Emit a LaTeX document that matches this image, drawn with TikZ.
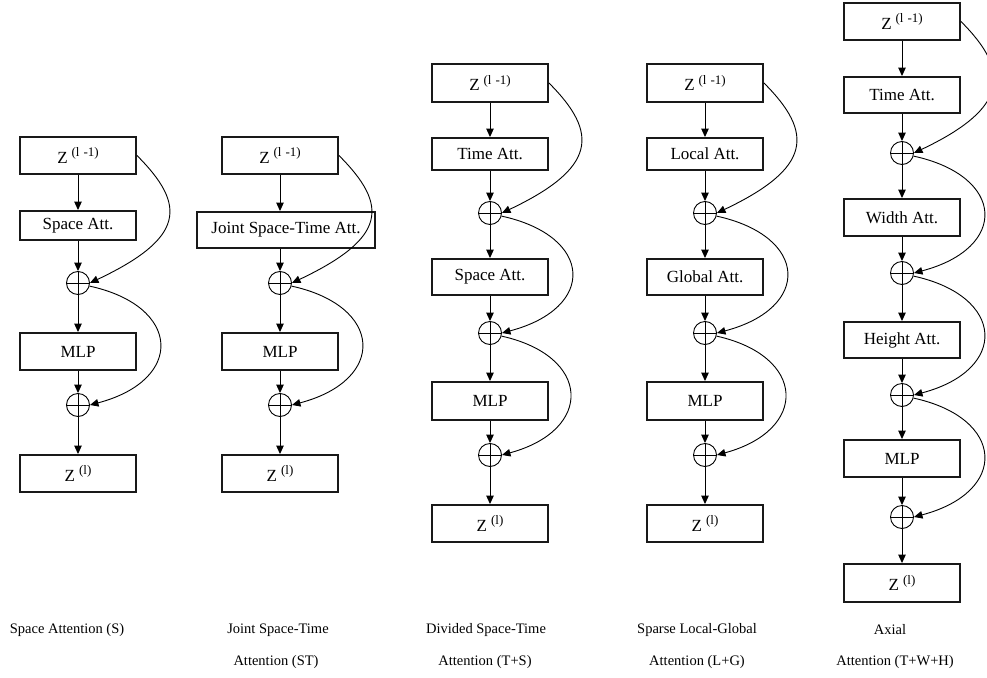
\documentclass[tikz,border=0pt]{standalone}
\usepackage{fontspec}
\setmainfont{Liberation Serif}
\usetikzlibrary{arrows.meta}
\tikzset{
  blk/.style={draw=black!90, line width=1.9pt, minimum width=116pt, minimum height=37pt, inner sep=0pt, font=\fontsize{17}{19}\selectfont},
  opl/.style={draw, circle, line width=0.9pt, minimum size=23pt, inner sep=0pt,
    path picture={\draw[line width=0.9pt] (path picture bounding box.west) -- (path picture bounding box.east)
                  (path picture bounding box.north) -- (path picture bounding box.south);}},
  arr/.style={line width=1pt, -{Triangle[length=8.5pt,width=7.5pt]}},
  skip/.style={line width=0.9pt, -{Triangle[length=8.5pt,width=7.5pt]}},
  lab/.style={font=\fontsize{14.5}{16}\selectfont, inner sep=0pt}
}
\newcommand{\zin}{Z\hspace{4pt}\raisebox{6.5pt}{\fontsize{13}{14}\selectfont(l\hspace{4pt}-1)}}
\newcommand{\zout}{Z\hspace{4pt}\raisebox{6.5pt}{\fontsize{13}{14}\selectfont(l)}}
\begin{document}
\begin{tikzpicture}[x=1pt,y=1pt]
\useasboundingbox (0,0) rectangle (987,-677);
\clip (0,0) rectangle (987,-677);

% ---------- Column 1 ----------
\node[blk] (a0) at (78,-155.5) {\zin};
\node[blk, minimum height=29pt] (a1) at (78,-225.5) {Space Att.};
\node[opl] (ap1) at (78,-283) {};
\node[blk] (a2) at (78,-351.5) {MLP};
\node[opl] (ap2) at (78,-405) {};
\node[blk] (a3) at (78,-473.5) {\zout};
\draw[arr] (a0) -- (a1);
\draw[arr] (a1) -- (ap1);
\draw[arr] (ap1) -- (a2);
\draw[arr] (a2) -- (ap2);
\draw[arr] (ap2) -- (a3);
\draw[skip] (a0.east) .. controls +(50,-50) and +(95,45) .. (ap1.east);
\draw[skip] (ap1.-15) .. controls +(92,-20) and +(95,25) .. (ap2.east);

% ---------- Column 2 ----------
\node[blk] (b0) at (280,-155.5) {\zin};
\node[blk, minimum width=178pt, minimum height=36pt] (b1) at (286,-230) {Joint Space-Time Att.};
\node[opl] (bp1) at (280,-283) {};
\node[blk] (b2) at (280,-351.5) {MLP};
\node[opl] (bp2) at (280,-405) {};
\node[blk] (b3) at (280,-473.5) {\zout};
\draw[arr] (b0) -- (b0 |- b1.north);
\draw[arr] (b0 |- b1.south) -- (bp1);
\draw[arr] (bp1) -- (b2);
\draw[arr] (b2) -- (bp2);
\draw[arr] (bp2) -- (b3);
\draw[skip] (b0.east) .. controls +(50,-50) and +(95,45) .. (bp1.east);
\draw[skip] (bp1.-15) .. controls +(92,-20) and +(95,25) .. (bp2.east);

% ---------- Column 3 ----------
\node[blk, minimum height=38pt] (c0) at (490,-83) {\zin};
\node[blk, minimum height=32pt] (c1) at (490,-154) {Time Att.};
\node[opl] (cp1) at (490,-213) {};
\node[blk, minimum height=36pt] (c2) at (490,-277) {Space Att.};
\node[opl] (cp2) at (490,-333) {};
\node[blk, minimum height=38pt] (c3) at (490,-401) {MLP};
\node[opl] (cp3) at (490,-455) {};
\node[blk] (c4) at (490,-523.5) {\zout};
\draw[arr] (c0) -- (c1);
\draw[arr] (c1) -- (cp1);
\draw[arr] (cp1) -- (c2);
\draw[arr] (c2) -- (cp2);
\draw[arr] (cp2) -- (c3);
\draw[arr] (c3) -- (cp3);
\draw[arr] (cp3) -- (c4);
\draw[skip] (c0.east) .. controls +(50,-50) and +(95,45) .. (cp1.east);
\draw[skip] (cp1.-15) .. controls +(92,-20) and +(95,25) .. (cp2.east);
\draw[skip] (cp2.-15) .. controls +(90,-20) and +(92,25) .. (cp3.east);

% ---------- Column 4 ----------
\node[blk, minimum height=38pt] (d0) at (705,-83) {\zin};
\node[blk, minimum height=32pt] (d1) at (705,-154) {Local Att.};
\node[opl] (dp1) at (705,-213) {};
\node[blk, minimum height=36pt] (d2) at (705,-277) {Global Att.};
\node[opl] (dp2) at (705,-333) {};
\node[blk, minimum height=38pt] (d3) at (705,-401) {MLP};
\node[opl] (dp3) at (705,-455) {};
\node[blk] (d4) at (705,-523.5) {\zout};
\draw[arr] (d0) -- (d1);
\draw[arr] (d1) -- (dp1);
\draw[arr] (dp1) -- (d2);
\draw[arr] (d2) -- (dp2);
\draw[arr] (dp2) -- (d3);
\draw[arr] (d3) -- (dp3);
\draw[arr] (dp3) -- (d4);
\draw[skip] (d0.east) .. controls +(50,-50) and +(95,45) .. (dp1.east);
\draw[skip] (dp1.-15) .. controls +(92,-20) and +(95,25) .. (dp2.east);
\draw[skip] (dp2.-15) .. controls +(90,-20) and +(92,25) .. (dp3.east);

% ---------- Column 5 ----------
\node[blk, minimum height=37pt] (e0) at (902,-21.5) {\zin};
\node[blk, minimum height=36pt] (e1) at (902,-95) {Time Att.};
\node[opl] (ep1) at (902,-153) {};
\node[blk, minimum height=37pt] (e2) at (902,-217.5) {Width Att.};
\node[opl] (ep2) at (902,-273) {};
\node[blk, minimum height=36pt] (e3) at (902,-340) {Height Att.};
\node[opl] (ep3) at (902,-395) {};
\node[blk] (e4) at (902,-458.5) {MLP};
\node[opl] (ep4) at (902,-517) {};
\node[blk, minimum height=38pt] (e5) at (902,-583) {\zout};
\draw[arr] (e0) -- (e1);
\draw[arr] (e1) -- (ep1);
\draw[arr] (ep1) -- (e2);
\draw[arr] (e2) -- (ep2);
\draw[arr] (ep2) -- (e3);
\draw[arr] (e3) -- (ep3);
\draw[arr] (ep3) -- (e4);
\draw[arr] (e4) -- (ep4);
\draw[arr] (ep4) -- (e5);
\draw[skip] (e0.east) .. controls +(50,-50) and +(95,45) .. (ep1.east);
\draw[skip] (ep1.-15) .. controls +(92,-20) and +(95,25) .. (ep2.east);
\draw[skip] (ep2.-15) .. controls +(92,-20) and +(95,25) .. (ep3.east);
\draw[skip] (ep3.-15) .. controls +(92,-20) and +(95,25) .. (ep4.east);

% ---------- Labels ----------
\node[lab] (l1) at (67,-630) {Space Attention (S)};
\node[lab] (l2a) at (278,-630) {Joint Space-Time};
\node[lab] (l2b) at (276,-662) {Attention (ST)};
\node[lab] (l3a) at (486,-630) {Divided Space-Time};
\node[lab] (l3b) at (485,-662) {Attention (T+S)};
\node[lab] (l4a) at (697,-630) {Sparse Local-Global};
\node[lab] (l4b) at (697,-662) {Attention (L+G)};
\node[lab] (l5a) at (890,-630) {Axial};
\node[lab] (l5b) at (895,-662) {Attention (T+W+H)};
\end{tikzpicture}
\end{document}
